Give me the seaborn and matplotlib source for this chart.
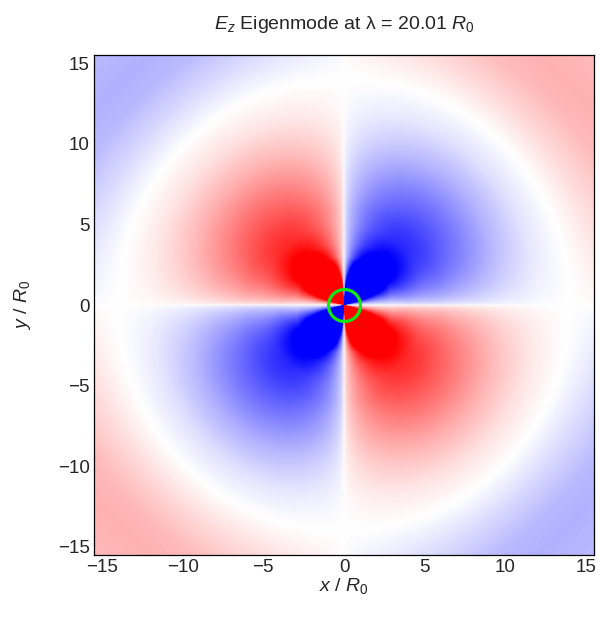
import numpy as np
import matplotlib
matplotlib.use('Agg')
import matplotlib.pyplot as plt
import seaborn as sns

# radial profiles of the mode (amplitudes, colour scale -1..1)
# broad part, varies slowly with angle
broad_r = [0.0, 1.0, 2.0, 3.0, 3.9, 5.0, 6.0, 8.0, 10.0, 12.0, 14.0, 16.0, 18.0, 19.5, 22.0]
broad_amp = [0.35, 0.35, 0.4, 0.45, 0.6, 0.68, 0.72, 0.55, 0.32, 0.13, 0.0, -0.15, -0.28, -0.31, -0.27]
# near-field lobes; lobe_skew bends them towards the vertical axis close to the origin
lobe_r = [0.0, 1.0, 2.0, 3.0, 3.9, 5.0, 6.0, 8.0]
lobe_amp = [5.0, 4.0, 2.0, 0.9, 0.45, 0.17, 0.05, 0.0]
lobe_skew = [1.6, 1.6, 1.4, 1.2, 1.0, 1.0, 1.0, 1.0]
broad_power = 0.5

tick_values = [-15, -10, -5, 0, 5, 10, 15]
tick_labels = ['\u221215', '\u221210', '\u22125', '0', '5', '10', '15']

lim = 15.5
n = 500

sns.set_theme(style='white')
plt.rcParams['font.family'] = ['Liberation Sans', 'DejaVu Sans']
plt.rcParams['mathtext.fontset'] = 'custom'
plt.rcParams['mathtext.rm'] = 'Liberation Sans'
plt.rcParams['mathtext.it'] = 'Liberation Sans:italic'

# grid of cell centres, rows go from top (y = +lim) to bottom
step = 2 * lim / n
xs = -lim + step * (np.arange(n) + 0.5)
ys = xs[::-1]
X, Y = np.meshgrid(xs, ys)
r = np.hypot(X, Y)
sign = -np.sign(X * Y)
t = np.arctan2(np.abs(Y), np.abs(X)) / (np.pi / 2)   # 0 on x axis, 1 on y axis
broad = np.abs(np.sin(np.pi * t)) ** broad_power * np.interp(r, broad_r, broad_amp)
lobe = np.sin(np.pi * t ** np.interp(r, lobe_r, lobe_skew)) * np.interp(r, lobe_r, lobe_amp)
field = sign * (broad + lobe)

fig = plt.figure(figsize=(6, 6.21), dpi=100)
ax = fig.add_axes([94 / 600, 66 / 621, 500 / 600, 500 / 621])

sns.heatmap(field, cmap='bwr', vmin=-1, vmax=1, cbar=False,
            xticklabels=False, yticklabels=False, ax=ax, rasterized=True)

def to_col(v):
    return (v + lim) / (2 * lim) * n

def to_row(v):
    return (lim - v) / (2 * lim) * n

# cylinder outline at the origin
ax.plot([to_col(0)], [to_row(0)], 'o', ms=23, mfc='none',
        mec='#14e614', mew=2.3)

ax.set_xticks([to_col(v) for v in tick_values])
ax.set_xticklabels(tick_labels, fontsize=13.5)
ax.set_yticks([to_row(v) for v in tick_values])
ax.set_yticklabels(tick_labels, fontsize=13.5, rotation=0)
ax.tick_params(direction='in', length=4, width=0.8, color='black',
               top=True, right=True, bottom=True, left=True, pad=3)

for sp in ax.spines.values():
    sp.set_visible(True)
    sp.set_color('black')
    sp.set_linewidth(0.9)

ax.set_xlabel(r'$x$ / $R_0$', fontsize=14, labelpad=0)
ax.set_ylabel(r'$y$ / $R_0$', fontsize=14, labelpad=18)
ax.set_title(r'$E_z$ Eigenmode at λ = 20.01 $R_0$', fontsize=14, pad=19)

fig.savefig('out.png', dpi=100)
